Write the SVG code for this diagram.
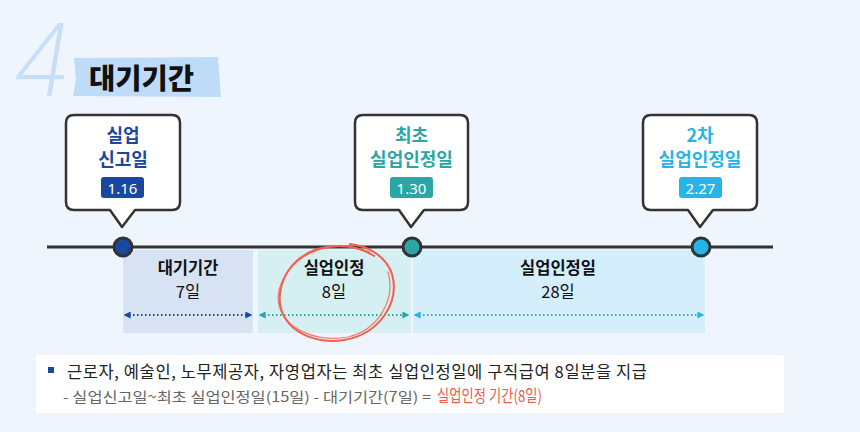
<svg xmlns="http://www.w3.org/2000/svg" width="860" height="432" viewBox="0 0 860 432">
<defs>
<style>
.k{font-family:"Noto Sans CJK KR","Noto Sans",sans-serif}
.callout{fill:#fff;stroke:#333;stroke-width:2.5;stroke-linejoin:round}
.ct{font-size:18px;font-weight:700;text-anchor:middle}
.badge{font-size:15px;fill:#fff;text-anchor:middle;font-family:"Noto Sans","Noto Sans CJK KR",sans-serif}
.bt{font-size:16.5px;font-weight:700;fill:#111;text-anchor:middle}
.bn{font-size:16.5px;fill:#111;text-anchor:middle}
.dot{stroke-width:2;stroke-dasharray:1.5 2.5;fill:none}
</style>
<marker id="ab" viewBox="0 0 10 10" refX="8" refY="5" markerWidth="7" markerHeight="7" orient="auto-start-reverse" markerUnits="userSpaceOnUse"><path d="M0,0 L10,5 L0,10 z" fill="#1a47a0"/></marker>
<marker id="at" viewBox="0 0 10 10" refX="8" refY="5" markerWidth="7" markerHeight="7" orient="auto-start-reverse" markerUnits="userSpaceOnUse"><path d="M0,0 L10,5 L0,10 z" fill="#2aa6a4"/></marker>
<marker id="as" viewBox="0 0 10 10" refX="8" refY="5" markerWidth="7" markerHeight="7" orient="auto-start-reverse" markerUnits="userSpaceOnUse"><path d="M0,0 L10,5 L0,10 z" fill="#27b4e6"/></marker>
</defs>
<rect width="860" height="432" fill="#eef5fd"/>

<g id="title">
<text x="11" y="96" font-family="Inter, 'Liberation Sans', sans-serif" font-size="100" font-weight="200" font-style="italic" fill="#c6def7">4</text>
<path d="M74,58 L218,57 L221,97 L73,96 L76,80 Z" fill="#bedcf8"/>
<text class="k" x="89" y="89" font-size="28.5" font-weight="900" fill="#111">대기기간</text>
</g>

<g id="bands">
<rect x="123" y="250" width="130" height="83" fill="#d7e3f3"/>
<rect x="258" y="250" width="153" height="83" fill="#d6eff3"/>
<rect x="413" y="250" width="292" height="83" fill="#d4eefb"/>
</g>

<g id="connectors">
<line x1="47" y1="247" x2="773" y2="247" stroke="#333" stroke-width="3"/>
<line class="dot" x1="125" y1="315" x2="251" y2="315" stroke="#1a47a0" marker-start="url(#ab)" marker-end="url(#ab)"/>
<line class="dot" x1="260" y1="315" x2="408" y2="315" stroke="#2aa6a4" marker-start="url(#at)" marker-end="url(#at)"/>
<line class="dot" x1="415" y1="315" x2="703" y2="315" stroke="#27b4e6" marker-start="url(#as)" marker-end="url(#as)"/>
</g>

<g id="band1" class="k">
<text class="bt" x="188" y="274">대기기간</text>
<text class="bn" x="188" y="298">7일</text>
</g>
<g id="band2" class="k">
<text class="bt" x="334" y="274">실업인정</text>
<text class="bn" x="334" y="298">8일</text>
</g>
<g id="band3" class="k">
<text class="bt" x="558" y="274">실업인정일</text>
<text class="bn" x="558" y="298">28일</text>
</g>

<g id="redcircle" fill="none" stroke="#f0614e" stroke-linecap="round">
<path d="M374,256 C342,236 294,246 282,284 C270,322 306,346 344,340 C380,334 400,302 392,274 C386,256 368,246 350,244" stroke-width="2"/>
<path d="M370,252 C332,238 290,252 279,290 C272,324 312,344 348,337 C378,330 396,300 388,272" stroke-width="1.2" opacity="0.8"/>
</g>

<g id="node1">
<path class="callout" d="M74,115 H172 Q180,115 180,123 V202 Q180,210 172,210 H135 L122,227 L110,210 H74 Q66,210 66,202 V123 Q66,115 74,115 Z"/>
<text class="k ct" x="123" y="142" fill="#1a47a0">실업</text>
<text class="k ct" x="123" y="166" fill="#1a47a0">신고일</text>
<rect x="101" y="177" width="43" height="21" rx="3" fill="#1a47a0"/>
<text class="badge" x="122.5" y="193.5">1.16</text>
<circle cx="123" cy="247" r="9" fill="#1a47a0" stroke="#333" stroke-width="3"/>
</g>

<g id="node2">
<path class="callout" d="M363,115 H460 Q468,115 468,123 V202 Q468,210 460,210 H424 L411,227 L399,210 H363 Q355,210 355,202 V123 Q355,115 363,115 Z"/>
<text class="k ct" x="411.5" y="142" fill="#2aa6a4">최초</text>
<text class="k ct" x="411.5" y="166" fill="#2aa6a4">실업인정일</text>
<rect x="390" y="177" width="43" height="21" rx="3" fill="#2aa6a4"/>
<text class="badge" x="411.5" y="193.5">1.30</text>
<circle cx="412" cy="247" r="9" fill="#2aa6a4" stroke="#333" stroke-width="3"/>
</g>

<g id="node3">
<path class="callout" d="M651,115 H749 Q757,115 757,123 V202 Q757,210 749,210 H713 L700,227 L688,210 H651 Q643,210 643,202 V123 Q643,115 651,115 Z"/>
<text class="k ct" x="700" y="142" fill="#27b4e6">2차</text>
<text class="k ct" x="700" y="166" fill="#27b4e6">실업인정일</text>
<rect x="679" y="177" width="43" height="21" rx="3" fill="#27b4e6"/>
<text class="badge" x="700.5" y="193.5">2.27</text>
<circle cx="701" cy="247" r="9" fill="#27b4e6" stroke="#333" stroke-width="3"/>
</g>

<g id="note">
<rect x="36" y="355" width="748" height="58" rx="2" fill="#fff"/>
<rect x="48" y="367" width="6" height="6" fill="#1a47a0"/>
<text class="k" x="67" y="378" font-size="16.5" fill="#222" textLength="580" lengthAdjust="spacing">근로자, 예술인, 노무제공자, 자영업자는 최초 실업인정일에 구직급여 8일분을 지급</text>
<text class="k" x="63" y="402" font-size="14" fill="#666" textLength="368" lengthAdjust="spacingAndGlyphs">- 실업신고일~최초 실업인정일(15일) - 대기기간(7일) =</text>
<text class="k" x="437" y="402" font-size="16.5" fill="#f05a4a" textLength="105" lengthAdjust="spacingAndGlyphs">실업인정 기간(8일)</text>
</g>
</svg>
